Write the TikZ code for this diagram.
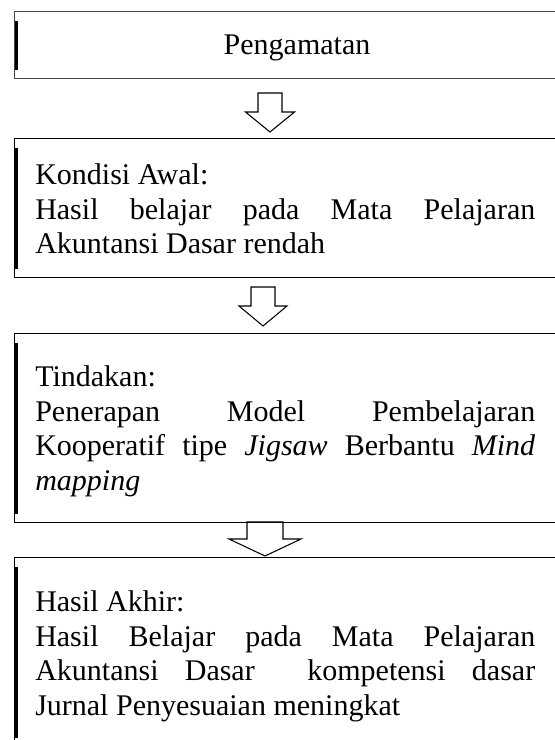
\documentclass[tikz,border=0pt]{standalone}
\usepackage{fontspec}
\setmainfont{Liberation Serif}
\usetikzlibrary{calc}

% one justified line, 500 units wide: spaces stretch evenly
\newcommand\jline[1]{\hbox to 375pt{\spaceskip=0.25em plus 1fil\relax #1}}

% hollow block arrow: centre x, top y, stem half width, head base y, head half width, tip y
\newcommand\blockarrow[6]{%
  \draw[arrowline] (#1-#3,#2) -- (#1-#3,#4) -- (#1-#5,#4) -- (#1,#6)
    -- (#1+#5,#4) -- (#1+#3,#4) -- (#1+#3,#2) -- cycle;}

\begin{document}
\begin{tikzpicture}[
    x=0.75pt, y=-0.75pt,
    font=\fontsize{22.5}{25.95}\selectfont,
    panel/.style={draw=black, line width=1.1pt, anchor=north west,
      inner sep=0pt, minimum width=427.5pt},
    bar/.style={line width=1.9pt, line cap=butt},
    txt/.style={anchor=base west, inner sep=0pt},
    arrowline/.style={draw=black, line width=0.8pt, line join=miter},
  ]
  \useasboundingbox (0,0) rectangle (555,740);
  \clip (0,0) rectangle (555,740);

  % the four panels (they run on past the right edge)
  \node[panel, draw=black!72, minimum height=50.25pt] (b1) at (14,11) {};
  \node[panel, minimum height=104.25pt] (b2) at (14,138) {};
  \node[panel, minimum height=141.75pt] (b3) at (14,333) {};
  \node[panel, minimum height=142pt] (b4) at (14,557) {};

  % heavy strokes along the left sides
  \foreach \b in {b1,b2,b3,b4}
    \draw[bar] ($(\b.north west)+(2.3,9.5)$) -- ($(\b.south west)+(2.3,-9.5)$);

  % arrows between the panels
  \blockarrow{270}{93}{12}{112}{24.5}{132}
  \blockarrow{263}{287}{12}{306}{24}{326}
  \blockarrow{265}{522}{18}{539}{36}{556}

  % first panel
  \node[anchor=base, inner sep=0pt] (t1) at (297,54) {Pengamatan};

  % second panel
  \node[txt] (t2a) at (35,184) {Kondisi Awal:};
  \node[txt] (t2b) at (35,219) {\jline{Hasil belajar pada Mata Pelajaran}};
  \node[txt] (t2c) at (35,253.5) {Akuntansi Dasar rendah};

  % third panel
  \node[txt] (t3a) at (35,386) {Tindakan:};
  \node[txt] (t3b) at (35,421) {\jline{Penerapan Model Pembelajaran}};
  \node[txt] (t3c) at (35,455.5) {\jline{Kooperatif tipe \textit{Jigsaw} Berbantu \textit{Mind}}};
  \node[txt] (t3d) at (35,490) {\textit{mapping}};

  % fourth panel
  \node[txt] (t4a) at (35,611) {Hasil Akhir:};
  \node[txt] (t4b) at (35,646) {\jline{Hasil Belajar pada Mata Pelajaran}};
  \node[txt] (t4c) at (35,680.5) {\jline{Akuntansi Dasar\space\space kompetensi dasar}};
  \node[txt] (t4d) at (35,715) {Jurnal Penyesuaian meningkat};
\end{tikzpicture}
\end{document}
